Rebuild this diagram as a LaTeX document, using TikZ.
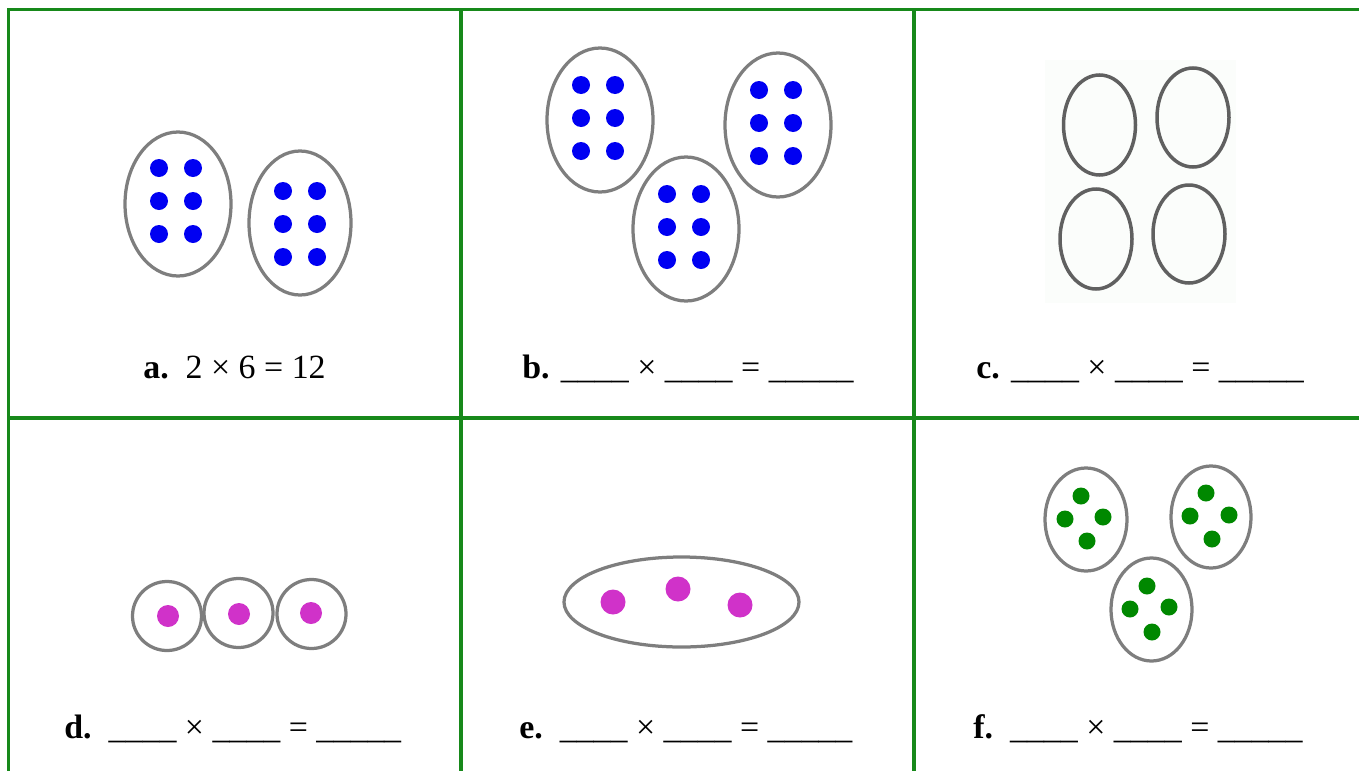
\documentclass[tikz,border=0pt]{standalone}
\usepackage{fontspec}
\setmainfont{Liberation Serif}
\definecolor{gridgreen}{HTML}{17891A}
\definecolor{baggray}{HTML}{7E7E7E}
\definecolor{ringgray}{HTML}{606060}
\definecolor{paleback}{HTML}{FBFDFB}
\definecolor{dotblue}{HTML}{0000F2}
\definecolor{dotpink}{HTML}{D032C9}
\definecolor{dotgreen}{HTML}{008800}
\tikzset{
  gridline/.style={draw=gridgreen, line width=0.065cm},
  bag/.style={draw=baggray, line width=0.065cm, fill=white},
  ring/.style={draw=ringgray, line width=0.07cm},
  bluedot/.style={fill=dotblue},
  pinkdot/.style={fill=dotpink},
  greendot/.style={fill=dotgreen},
  answer/.style={font=\fontsize{19.3}{23}\selectfont, anchor=base west, inner sep=0pt}
}

\begin{document}
\begin{tikzpicture}[x=0.02cm, y=-0.02cm]
\useasboundingbox (0,0) rectangle (1359,771);

% table
\draw[gridline] (1359,9.5) -- (8.5,9.5) -- (8.5,771);
\draw[gridline] (8.5,418) -- (1359,418);
\draw[gridline] (461,9.5) -- (461,771);
\draw[gridline] (914,9.5) -- (914,771);

% a
\draw[bag] (178,204) ellipse [x radius=53, y radius=72];
\draw[bag] (300,223) ellipse [x radius=51, y radius=72];
\foreach \y in {168,201,234}
  \foreach \x in {159,193}
    \fill[bluedot] (\x,\y) circle [radius=9];
\foreach \y in {191,224,257}
  \foreach \x in {283,317}
    \fill[bluedot] (\x,\y) circle [radius=9];
\node[answer] (labA) at (143,378) {\textbf{a.}\ \ 2 × 6 = 12};

% b
\foreach \cx/\cy in {600/120, 778/125, 686/229} {
  \draw[bag] (\cx,\cy) ellipse [x radius=53, y radius=72];
  \foreach \dy in {-35,-2,31}
    \foreach \dx in {-19,15}
      \fill[bluedot] (\cx+\dx,\cy+\dy) circle [radius=9];
}
\node[answer] (labB) at (522,378) {\textbf{b.} \_\_\_\_ × \_\_\_\_ = \_\_\_\_\_};

% c
\fill[paleback] (1045,60) rectangle (1236,303);
\draw[ring] (1099.5,125) ellipse [x radius=36, y radius=50];
\draw[ring] (1193,117.5) ellipse [x radius=36, y radius=49.5];
\draw[ring] (1096,239) ellipse [x radius=36, y radius=50];
\draw[ring] (1189,234) ellipse [x radius=36, y radius=49];
\node[answer] (labC) at (976,378) {\textbf{c.} \_\_\_\_ × \_\_\_\_ = \_\_\_\_\_};

% d
\foreach \cx/\cy/\dx/\dy in {167/616/168/616, 238.5/613/239/614, 311.5/614/311/613} {
  \draw[bag] (\cx,\cy) circle [radius=34.5];
  \fill[pinkdot] (\dx,\dy) circle [radius=11];
}
\node[answer] (labD) at (64,738) {\textbf{d.}\ \ \_\_\_\_ × \_\_\_\_ = \_\_\_\_\_};

% e
\draw[bag] (681.5,602) ellipse [x radius=117.5, y radius=45];
\foreach \x/\y in {613/602, 678/589, 740/605}
  \fill[pinkdot] (\x,\y) circle [radius=12.5];
\node[answer] (labE) at (519,738) {\textbf{e.}\ \ \_\_\_\_ × \_\_\_\_ = \_\_\_\_\_};

% f
\draw[bag] (1086,519.5) ellipse [x radius=41, y radius=51.5];
\draw[bag] (1211,517) ellipse [x radius=40, y radius=51];
\draw[bag] (1151.5,609.5) ellipse [x radius=40.5, y radius=51.5];
\foreach \x/\y in {1081/496, 1065/519, 1103/517, 1087/541,
                   1206/493, 1190/516, 1229/515, 1212/539,
                   1147/586, 1130/609, 1169/607, 1152/632}
  \fill[greendot] (\x,\y) circle [radius=8.5];
\node[answer] (labF) at (973,738) {\textbf{f.}\ \ \_\_\_\_ × \_\_\_\_ = \_\_\_\_\_};
\end{tikzpicture}
\end{document}
